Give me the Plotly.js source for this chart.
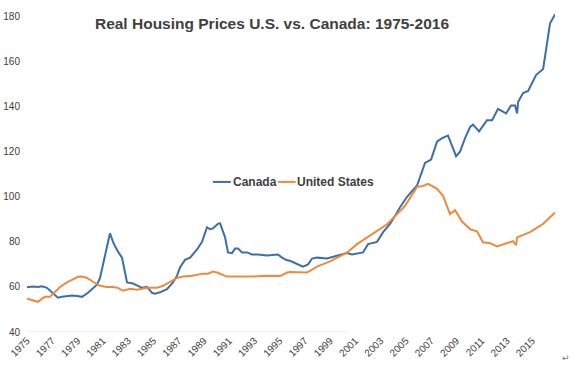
<!DOCTYPE html>
<html>
<head>
<meta charset="utf-8">
<script src="https://cdn.plot.ly/plotly-3.0.1.min.js"></script>
<style>
  html, body { margin: 0; padding: 0; background: #fff; }
  #chart { width: 571px; height: 367px; }
</style>
</head>
<body>
<div id="chart"></div>
<script>
// Data (decimal years, real price index)
const canadaYears = [1975.0,1975.47,1975.87,1976.19,1976.58,1976.98,1977.45,1977.77,1978.17,1978.56,1978.96,1979.35,1979.83,1980.23,1980.54,1980.78,1980.94,1981.18,1981.33,1981.57,1981.81,1981.97,1982.28,1982.52,1982.76,1982.92,1983.39,1983.79,1984.11,1984.5,1984.9,1985.13,1985.53,1986.08,1986.56,1986.88,1987.11,1987.51,1987.91,1988.46,1988.86,1989.25,1989.49,1989.73,1990.12,1990.28,1990.68,1990.91,1991.23,1991.47,1991.71,1992.02,1992.42,1992.81,1993.29,1994.0,1994.48,1994.87,1995.19,1995.59,1995.82,1996.3,1996.85,1997.25,1997.57,1997.96,1998.75,1999.39,2000.34,2000.73,2001.21,2001.6,2002.0,2002.71,2003.19,2003.74,2004.3,2004.53,2005.09,2005.88,2006.51,2006.99,2007.46,2007.86,2008.33,2008.65,2008.97,2009.28,2009.68,2010.08,2010.31,2010.79,2011.42,2011.82,2012.29,2012.93,2013.32,2013.64,2013.8,2013.88,2014.27,2014.67,2015.3,2015.86,2016.17,2016.41,2016.81];
const canadaValues = [59.8,60.2,60,60.3,59.6,57.4,55.2,55.6,56,56.2,56,55.6,57.4,59.5,61,64,68,75,79,83.8,80,78,75,73,66.4,62,61.5,60.6,59.6,60,57.4,57,57.6,59,62,65,68.6,72,73,76.6,80,86.5,85.6,86,88,88.3,82,75.3,75,77,77,75.3,75.3,74.4,74.4,74,74.4,74.4,73,71.8,71.6,70.5,69,70,72.6,73,72.6,73.6,75,74.4,75,75.3,79,80,84.3,88,93,95.4,100,105,115,116.5,124.5,126,127.2,123,118,120,126,131,132,129,134,134,139,137,140.5,140.5,137,142,146,147,154,156.7,169,177,181];

const usYears = [1975.0,1975.47,1975.87,1976.19,1976.43,1976.82,1977.22,1977.61,1978.17,1978.56,1979.04,1979.35,1979.75,1980.23,1980.78,1981.33,1981.81,1982.2,1982.6,1983.16,1983.71,1984.5,1985.29,1985.77,1986.32,1986.88,1987.35,1988.06,1988.94,1989.33,1989.73,1990.04,1990.84,1991.86,1992.89,1994.0,1995.03,1995.59,1995.82,1997.17,1997.96,1998.99,2000.34,2001.13,2001.92,2002.71,2003.5,2004.3,2004.93,2005.88,2006.35,2006.75,2007.46,2007.94,2008.49,2008.89,2009.44,2010.08,2010.63,2011.1,2011.66,2012.21,2012.69,2013.48,2013.72,2013.8,2014.83,2015.86,2016.81];
const usValues = [54.8,54,53.4,54.8,55.6,55.6,57.9,60,62,63.2,64.5,64.6,64,62.3,60.5,60,60,59.6,58.3,59.2,58.8,59.6,59.6,60.5,62.3,64,64.6,65,65.9,65.9,66.8,66.4,64.6,64.6,64.6,65,64.8,66.4,66.6,66.4,69,71.3,75.3,79,82,84.7,87.8,92.3,96,104.4,104.8,105.7,103.5,100.4,92.3,94,89,85.6,84.7,79.8,79.4,78,78.9,80.3,78.5,82,84.3,88,93];

const seriesNames = ["Canada", "United States"];
const xTickValues = [1975,1977,1979,1981,1983,1985,1987,1989,1991,1993,1995,1997,1999,2001,2003,2005,2007,2009,2011,2013,2015];
const yTickValues = [40,60,80,100,120,140,160,180];
const chartTitle = "Real Housing Prices U.S. vs. Canada: 1975-2016";

const blue = "#3a6fa8";
const orange = "#ef8a3d";
const textColor = "#404040";
const fontFamily = "Liberation Sans, Arial, Helvetica, sans-serif";

const traces = [
  { x: canadaYears, y: canadaValues, name: seriesNames[0], type: "scatter", mode: "lines",
    line: { color: blue, width: 2 }, showlegend: false },
  { x: usYears, y: usValues, name: seriesNames[1], type: "scatter", mode: "lines",
    line: { color: orange, width: 2 }, showlegend: false }
];

// legend geometry (paper coords)
const legY = 0.469;
const layout = {
  width: 571, height: 367,
  margin: { l: 27, r: 16, t: 12, b: 35 },
  paper_bgcolor: "#fff", plot_bgcolor: "#fff",
  font: { family: fontFamily, color: textColor, size: 10 },
  title: { text: "<b>" + chartTitle + "</b>", x: 0.464, xanchor: "center", xref: "paper",
           y: 0.935, yanchor: "middle", yref: "container",
           font: { family: fontFamily, size: 15.5, color: textColor } },
  xaxis: { range: [1975, 2016.8], tickmode: "array", tickvals: xTickValues,
           ticktext: xTickValues.map(String), tickangle: -45, showgrid: false,
           zeroline: false, showline: false, ticks: "",
           tickfont: { family: fontFamily, size: 10, color: textColor } },
  yaxis: { range: [40, 182], tickmode: "array", tickvals: yTickValues,
           ticktext: yTickValues.map(String), showgrid: false, zeroline: false,
           showline: false, ticks: "", ticklabelstandoff: 6,
           tickfont: { family: fontFamily, size: 10, color: textColor } },
  shapes: [
    { type: "line", xref: "paper", yref: "y", x0: 0, x1: 0.606, y0: 40, y1: 40,
      line: { color: "#e2e2e2", width: 1 } },
    { type: "line", xref: "paper", yref: "paper", x0: 0.352, x1: 0.386, y0: legY, y1: legY,
      line: { color: blue, width: 2 } },
    { type: "line", xref: "paper", yref: "paper", x0: 0.475, x1: 0.509, y0: legY, y1: legY,
      line: { color: orange, width: 2 } }
  ],
  annotations: [
    { xref: "paper", yref: "paper", x: 0.387, y: legY, xanchor: "left", yanchor: "middle",
      text: "<b>" + seriesNames[0] + "</b>", showarrow: false,
      font: { family: fontFamily, size: 12, color: textColor } },
    { xref: "paper", yref: "paper", x: 0.508, y: legY, xanchor: "left", yanchor: "middle",
      text: "<b>" + seriesNames[1] + "</b>", showarrow: false,
      font: { family: fontFamily, size: 12, color: textColor } },
    { xref: "paper", yref: "paper", x: 1.01, y: -0.08, xanchor: "left", yanchor: "middle",
      text: "↵", showarrow: false, font: { family: "DejaVu Sans", size: 9, color: "#777" } }
  ]
};

Plotly.newPlot("chart", traces, layout, { displayModeBar: false, staticPlot: true });
</script>
</body>
</html>
